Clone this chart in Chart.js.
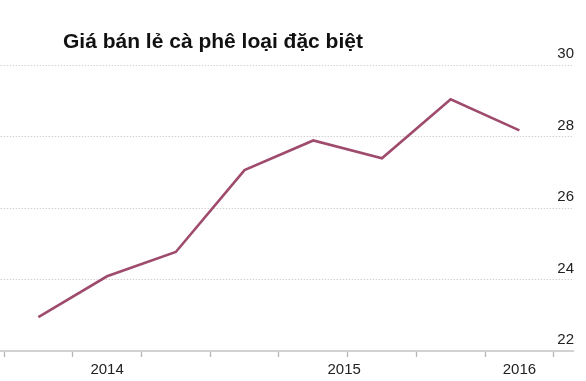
<!DOCTYPE html>
<html>
<head>
<meta charset="utf-8">
<script src="https://cdn.jsdelivr.net/npm/chart.js@4"></script>
<style>
  html, body { margin: 0; padding: 0; background: #fff; }
  #wrap { position: relative; width: 586px; height: 381px; }
  #title {
    position: absolute; left: 63px; top: 29px;
    font: bold 21px "Liberation Sans", Arial, sans-serif; color: #111;
  }
  canvas { position: absolute; left: 0; top: 0; }
</style>
</head>
<body>
<div id="wrap">
  <canvas id="chart" width="586" height="381"></canvas>
  <div id="title">Giá bán lẻ cà phê loại đặc biệt</div>
</div>
<script>
// half-year periods, price
const prices = [22.95, 24.09, 24.77, 27.06, 27.89, 27.39, 29.04, 28.17];
const years = ['2014', '2015', '2016'];
const yearAt = [1, 4.45, 7];   // where each year label sits on the period axis

const boundaries = prices.map((_, i) => i - 0.5).concat([prices.length - 0.5]);
const isBoundary = v => Math.abs((v + 0.5) - Math.round(v + 0.5)) < 1e-6 && !yearAt.includes(v);

const ctx = document.getElementById('chart');
const chart = new Chart(ctx, {
  type: 'line',
  data: {
    datasets: [{
      data: prices.map((p, i) => ({ x: i, y: p })),
      borderColor: '#9f4b6d',
      borderWidth: 2.6,
      pointRadius: 0,
      tension: 0,
      fill: false,
    }]
  },
  options: {
    animation: false,
    responsive: false,
    layout: { padding: { top: 65, right: 11, bottom: -2, left: 0 } },
    plugins: { legend: { display: false }, tooltip: { enabled: false } },
    scales: {
      x: {
        type: 'linear',
        min: -0.548,
        max: 7.78,
        afterBuildTicks: (s) => {
          const vals = boundaries.concat(yearAt).sort((a, b) => a - b);
          s.ticks = vals.map(v => ({ value: v }));
        },
        ticks: {
          autoSkip: false,
          maxRotation: 0,
          padding: 4,
          color: '#222',
          font: { family: '"Liberation Sans", Arial, sans-serif', size: 15 },
          callback: (v) => {
            const k = yearAt.indexOf(v);
            return k >= 0 ? years[k] : '';
          }
        },
        grid: {
          drawOnChartArea: false,
          drawTicks: true,
          tickLength: 6,
          tickWidth: 1.3,
          tickColor: (c) => (c.tick && isBoundary(c.tick.value)) ? '#b5b5b5' : 'rgba(0,0,0,0)',
          color: '#b5b5b5',
        },
        border: { display: true, color: '#d2d2d2', width: 2 },
      },
      y: {
        position: 'right',
        min: 22,
        max: 30,
        ticks: {
          stepSize: 2,
          mirror: true,
          padding: 1,
          labelOffset: -11,
          color: '#222',
          font: { family: '"Liberation Sans", Arial, sans-serif', size: 15 },
        },
        grid: {
          drawTicks: false,
          color: (c) => (c.tick && c.tick.value === 22) ? 'rgba(0,0,0,0)' : '#bdbdbd',
          lineWidth: 1,
        },
        border: { display: false, dash: [1, 2] },
      }
    }
  }
});
</script>
</body>
</html>
